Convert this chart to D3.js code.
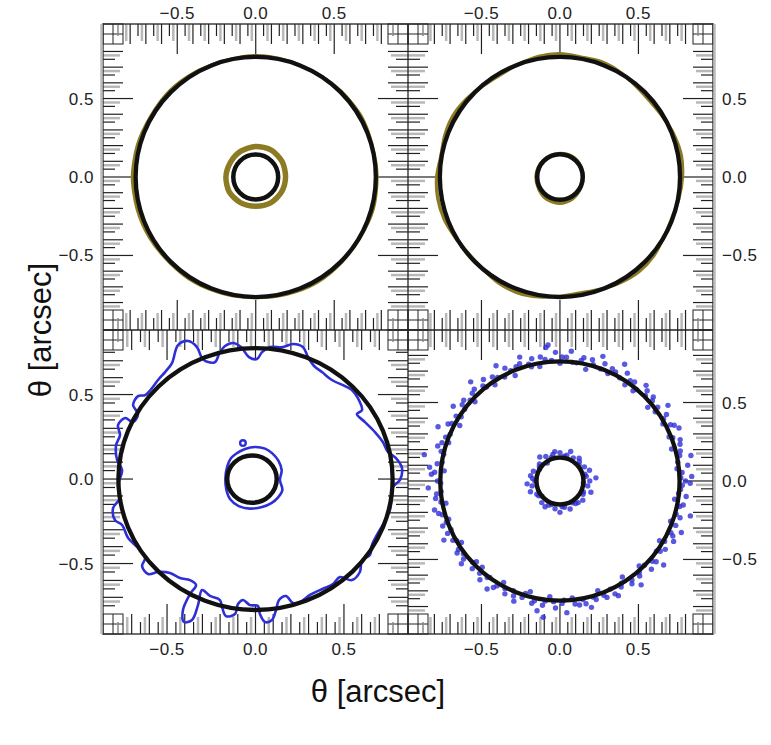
<!DOCTYPE html>
<html><head><meta charset="utf-8">
<script src="https://cdn.jsdelivr.net/npm/d3@7"></script>
<style>body{margin:0;background:#fff}</style>
</head><body><svg id="c" width="771" height="745"></svg>
<script>
// ---------------- DATA ----------------
const tickValues = [-0.5, 0.0, 0.5];
const tickLabels = ["\u22120.5", "0.0", "0.5"];
const axisTitle = "\u03B8 [arcsec]";

// Einstein ring radii (arcsec) per panel: outer and inner critical circle
const outerRadius = {tl: 0.765, tr: 0.765, bl: 0.775, br: 0.762};
const innerRadius = {tl: 0.143, tr: 0.145, bl: 0.14, br: 0.15};
const innerCenterX = {tl: 0.0, tr: 0.0, bl: -0.02, br: 0.0};

// Olive contours (polar: radius at evenly spaced angles)
const tlOuterOlive = [0.772,0.768,0.775,0.770,0.765,0.768,0.772,0.766,0.770,0.775,0.772,0.780,0.785,0.782,0.778,0.772,0.775,0.770,0.768,0.772,0.776,0.770,0.768,0.775];
const tlInnerOlive = [0.19,0.195,0.198,0.195,0.19,0.186,0.19,0.194,0.19,0.186,0.19,0.19];
const trOuterOlive = [0.78,0.785,0.775,0.76,0.75,0.755,0.77,0.78,0.775,0.785,0.78,0.765,0.755,0.76,0.775,0.785,0.78,0.77,0.785,0.79,0.785,0.77,0.76,0.765,0.78,0.785,0.775,0.76,0.75,0.76,0.775,0.785,0.78,0.765,0.76,0.77];
const trInnerOlive = [0.148,0.15,0.152,0.15,0.148,0.15,0.152,0.155,0.165,0.168,0.16,0.15];

// Blue contour, bottom-left panel [x, y] arcsec
const blOuterBlue = [
[-0.511,0.633],[-0.472,0.686],[-0.438,0.793],[-0.381,0.817],[-0.331,0.781],[-0.302,0.716],[-0.268,0.692],[-0.229,0.692],[-0.201,0.751],[-0.172,0.787],
[-0.127,0.805],[-0.082,0.781],[-0.037,0.722],[0.008,0.710],[0.037,0.751],[0.082,0.781],[0.155,0.781],[0.212,0.799],[0.268,0.781],[0.297,0.722],
[0.331,0.669],[0.376,0.633],[0.432,0.586],[0.506,0.550],[0.545,0.527],[0.579,0.479],[0.602,0.408],[0.573,0.385],[0.619,0.337],[0.675,0.278],
[0.720,0.219],[0.749,0.160],[0.794,0.124],[0.828,0.065],[0.816,-0.006],[0.777,-0.047],[0.771,-0.107],[0.760,-0.183],[0.726,-0.260],[0.692,-0.320],
[0.658,-0.391],[0.647,-0.450],[0.602,-0.479],[0.590,-0.550],[0.545,-0.598],[0.477,-0.580],[0.438,-0.621],[0.364,-0.657],[0.308,-0.686],[0.251,-0.728],
[0.212,-0.734],[0.172,-0.692],[0.133,-0.716],[0.116,-0.775],[0.093,-0.834],[0.054,-0.846],[0.025,-0.799],[0.014,-0.751],[-0.031,-0.746],[-0.071,-0.716],
[-0.099,-0.740],[-0.116,-0.799],[-0.167,-0.811],[-0.189,-0.757],[-0.201,-0.716],[-0.257,-0.692],[-0.302,-0.657],[-0.325,-0.746],[-0.359,-0.834],[-0.404,-0.846],
[-0.410,-0.775],[-0.370,-0.680],[-0.336,-0.627],[-0.370,-0.598],[-0.427,-0.586],[-0.483,-0.556],[-0.551,-0.550],[-0.607,-0.562],[-0.641,-0.515],[-0.624,-0.467],
[-0.664,-0.408],[-0.720,-0.349],[-0.754,-0.272],[-0.794,-0.243],[-0.805,-0.172],[-0.766,-0.112],[-0.777,-0.036],[-0.754,0.053],[-0.782,0.112],[-0.788,0.201],
[-0.766,0.260],[-0.777,0.320],[-0.737,0.361],[-0.692,0.337],[-0.664,0.385],[-0.692,0.438],[-0.664,0.491],[-0.624,0.497],[-0.585,0.538],[-0.551,0.586]
];
const blInnerBlue = [
[-0.110,0.150],[-0.059,0.178],[-0.003,0.190],[0.054,0.180],[0.095,0.152],[0.130,0.108],[0.148,0.053],[0.138,-0.006],[0.152,-0.065],[0.128,-0.108],
[0.090,-0.142],[0.037,-0.165],[-0.031,-0.175],[-0.095,-0.160],[-0.143,-0.120],[-0.165,-0.062],[-0.170,0.006],[-0.160,0.074],[-0.138,0.124]
];
const blBlob = [[-0.071,0.213]];

// Blue image-plane points, bottom-right panel [angle deg, radius arcsec]
const brOuterDots = [
[0,0.80],[2,0.84],[4,0.78],[7,0.82],[9,0.76],[11,0.85],[14,0.79],[16,0.74],[19,0.81],[21,0.77],[24,0.83],[27,0.79],[29,0.75],[32,0.80],[35,0.84],
[37,0.78],[40,0.73],[42,0.80],[45,0.77],[48,0.82],[50,0.76],[53,0.79],[56,0.74],[58,0.81],[61,0.85],[63,0.78],[66,0.75],[69,0.80],[71,0.84],[74,0.77],
[77,0.73],[79,0.80],[82,0.76],[85,0.83],[87,0.79],[90,0.75],[92,0.82],[95,0.87],[97,0.78],[100,0.74],[103,0.80],[105,0.77],[108,0.83],[111,0.78],[113,0.73],
[116,0.80],[119,0.84],[121,0.77],[124,0.74],[127,0.81],[129,0.78],[132,0.85],[135,0.79],[137,0.74],[140,0.80],[143,0.76],[145,0.83],[148,0.78],[151,0.73],
[153,0.80],[156,0.85],[159,0.78],[161,0.75],[164,0.81],[167,0.76],[169,0.88],[172,0.79],[175,0.74],[177,0.82],[180,0.78],[183,0.84],[185,0.76],[188,0.80],
[191,0.74],[193,0.82],[196,0.78],[199,0.75],[201,0.80],[204,0.76],[207,0.83],[209,0.78],[212,0.74],[215,0.80],[217,0.77],[220,0.82],[223,0.76],[225,0.79],
[228,0.74],[231,0.81],[233,0.77],[236,0.83],[239,0.78],[241,0.74],[244,0.80],[247,0.76],[249,0.82],[252,0.78],[255,0.73],[257,0.80],[260,0.84],[263,0.77],
[265,0.74],[268,0.81],[271,0.78],[273,0.84],[276,0.75],[279,0.80],[281,0.77],[284,0.83],[287,0.79],[289,0.74],[292,0.80],[295,0.76],[297,0.82],[300,0.78],
[303,0.73],[305,0.80],[308,0.84],[311,0.77],[313,0.74],[316,0.81],[319,0.78],[321,0.85],[324,0.76],[327,0.80],[329,0.74],[332,0.82],[335,0.78],[337,0.84],
[340,0.75],[343,0.80],[345,0.86],[348,0.78],[351,0.74],[353,0.81],[356,0.77],[359,0.83],
[96,0.855],[263,0.875],[174,0.835]
];
const brOuterDots2 = [
[1.5,0.77],[6,0.75],[12,0.78],[17,0.80],[22,0.75],[26,0.81],[31,0.77],[36,0.75],[41,0.78],[46,0.80],[51,0.74],[55,0.78],[60,0.76],[65,0.79],[70,0.76],
[75,0.80],[80,0.78],[84,0.76],[89,0.79],[94,0.77],[99,0.80],[104,0.75],[109,0.79],[114,0.77],[118,0.75],[123,0.79],[128,0.76],[133,0.80],[138,0.77],
[142,0.79],[147,0.75],[152,0.78],[157,0.76],[162,0.79],[166,0.78],[171,0.76],[176,0.80],[181,0.76],[186,0.79],[190,0.77],[195,0.80],[200,0.77],[205,0.79],
[210,0.76],[214,0.78],[219,0.79],[224,0.74],[229,0.78],[234,0.76],[238,0.80],[243,0.77],[248,0.79],[253,0.75],[258,0.78],[262,0.80],[267,0.77],[272,0.76],
[277,0.79],[282,0.80],[286,0.77],[291,0.78],[296,0.80],[301,0.76],[306,0.78],[310,0.79],[315,0.76],[320,0.80],[325,0.78],[330,0.77],[334,0.80],[339,0.79],
[344,0.77],[349,0.80],[354,0.76],[358,0.78]
];
const brInnerDots = [
[0,0.19],[10,0.17],[20,0.20],[30,0.18],[40,0.16],[50,0.19],[60,0.17],[70,0.20],[80,0.16],[90,0.18],[100,0.19],[110,0.16],[120,0.18],[130,0.20],
[140,0.17],[150,0.15],[160,0.18],[170,0.19],[180,0.16],[190,0.18],[200,0.20],[210,0.17],[220,0.15],[230,0.18],[240,0.19],[250,0.16],[260,0.18],
[270,0.20],[280,0.17],[290,0.19],[300,0.16],[310,0.18],[320,0.19],[330,0.17],[340,0.21],[350,0.18],[5,0.23],[185,0.21],[355,0.15],[125,0.14],
[15,0.165],[45,0.175],[75,0.17],[105,0.175],[145,0.16],[175,0.175],[215,0.165],[245,0.17],[275,0.165],[305,0.175],[335,0.165]
];

// ---------------- LAYOUT ----------------
const OLIVE = "#8c7b22", BLUE = "#2f2fd8", BLACK = "#111";
const panels = [
  {id:"tl", x0:103, x1:408, y0:24,  y1:330, xd:[-0.973,0.970], yd:[-0.975,0.975]},
  {id:"tr", x0:408, x1:713, y0:24,  y1:330, xd:[-0.968,0.975], yd:[-0.975,0.975]},
  {id:"bl", x0:103, x1:408, y0:330, y1:634, xd:[-0.862,0.862], yd:[-0.917,0.882]},
  {id:"br", x0:408, x1:713, y0:330, y1:634, xd:[-0.968,0.975], yd:[-0.975,0.962]}
];
const svg = d3.select("#c");
const font = "'Liberation Sans', Arial, Helvetica, sans-serif";

panels.forEach(p => {
  p.x = d3.scaleLinear().domain(p.xd).range([p.x0, p.x1]);
  p.y = d3.scaleLinear().domain(p.yd).range([p.y1, p.y0]);
});

// ticks
const gT = svg.append("g");
function tickLen(v){
  const a = Math.round(Math.abs(v)*100);
  if (a % 50 === 0) return 30;
  if (a % 10 === 0) return 20;
  return 12;
}
panels.forEach(p => {
  const blk = d3.range(-19, 20).map(k => +(k*0.05).toFixed(3));
  const gry = d3.range(-10, 10).map(k => +((k+0.5)*0.1 + 0.025).toFixed(3));
  const inX = v => p.x(v) > p.x0 + 22 && p.x(v) < p.x1 - 22;
  const inY = v => p.y(v) > p.y0 + 22 && p.y(v) < p.y1 - 22;
  gry.filter(inX).forEach(v => {
    const xx = p.x(v), L = 17;
    gT.append("line").attr("x1",xx).attr("x2",xx).attr("y1",p.y0).attr("y2",p.y0+L).attr("stroke","#b8b8b8").attr("stroke-width",2.5);
    gT.append("line").attr("x1",xx).attr("x2",xx).attr("y1",p.y1).attr("y2",p.y1-L).attr("stroke","#b8b8b8").attr("stroke-width",2.5);
  });
  gry.filter(inY).forEach(v => {
    const yy = p.y(v), L = 17;
    gT.append("line").attr("y1",yy).attr("y2",yy).attr("x1",p.x0).attr("x2",p.x0+L).attr("stroke","#b8b8b8").attr("stroke-width",2.5);
    gT.append("line").attr("y1",yy).attr("y2",yy).attr("x1",p.x1).attr("x2",p.x1-L).attr("stroke","#b8b8b8").attr("stroke-width",2.5);
  });
  blk.filter(inX).forEach(v => {
    const xx = p.x(v), L = tickLen(v);
    gT.append("line").attr("x1",xx).attr("x2",xx).attr("y1",p.y0).attr("y2",p.y0+L).attr("stroke","#222").attr("stroke-width",1.2);
    gT.append("line").attr("x1",xx).attr("x2",xx).attr("y1",p.y1).attr("y2",p.y1-L).attr("stroke","#222").attr("stroke-width",1.2);
  });
  blk.filter(inY).forEach(v => {
    const yy = p.y(v), L = tickLen(v);
    gT.append("line").attr("y1",yy).attr("y2",yy).attr("x1",p.x0).attr("x2",p.x0+L).attr("stroke","#222").attr("stroke-width",1.2);
    gT.append("line").attr("y1",yy).attr("y2",yy).attr("x1",p.x1).attr("x2",p.x1-L).attr("stroke","#222").attr("stroke-width",1.2);
  });
  [[p.x0,p.y0,1,1],[p.x1,p.y0,-1,1],[p.x0,p.y1,1,-1],[p.x1,p.y1,-1,-1]].forEach(([cx,cy,sx,sy]) => {
    const s = 20;
    gT.append("rect").attr("x", Math.min(cx, cx+sx*s)).attr("y", Math.min(cy, cy+sy*s)).attr("width", s).attr("height", s)
      .attr("fill","none").attr("stroke","#222").attr("stroke-width",1);
    gT.append("line").attr("x1",cx+sx*10).attr("x2",cx+sx*10).attr("y1",cy).attr("y2",cy+sy*s).attr("stroke","#222").attr("stroke-width",1);
    gT.append("line").attr("x1",cx).attr("x2",cx+sx*s).attr("y1",cy+sy*10).attr("y2",cy+sy*10).attr("stroke","#222").attr("stroke-width",1);
    gT.append("line").attr("x1",cx+sx*15).attr("x2",cx+sx*15).attr("y1",cy).attr("y2",cy+sy*s*0.6).attr("stroke","#888").attr("stroke-width",1.5);
  });
});

// frames
svg.append("rect").attr("x",103).attr("y",24).attr("width",610).attr("height",610).attr("fill","none").attr("stroke","#222").attr("stroke-width",1.3);
svg.append("line").attr("x1",101.5).attr("x2",101.5).attr("y1",24).attr("y2",634).attr("stroke","#bbb").attr("stroke-width",2.5);
svg.append("line").attr("x1",714.5).attr("x2",714.5).attr("y1",24).attr("y2",634).attr("stroke","#bbb").attr("stroke-width",2.5);
svg.append("line").attr("x1",408).attr("x2",408).attr("y1",24).attr("y2",634).attr("stroke","#222").attr("stroke-width",1.3);
svg.append("line").attr("x1",103).attr("x2",713).attr("y1",330).attr("y2",330).attr("stroke","#222").attr("stroke-width",1.3);

// contours
const P = Object.fromEntries(panels.map(p => [p.id, p]));
function polarPath(p, radii) {
  const n = radii.length;
  const pts = radii.map((r, i) => { const a = i / n * 2 * Math.PI; return [p.x(r*Math.cos(a)), p.y(r*Math.sin(a))]; });
  return d3.line().curve(d3.curveCardinalClosed.tension(0.2))(pts);
}
const gC = svg.append("g");
gC.append("path").attr("d", polarPath(P.tl, tlOuterOlive)).attr("fill","none").attr("stroke",OLIVE).attr("stroke-width",3.5);
gC.append("path").attr("d", polarPath(P.tl, tlInnerOlive)).attr("fill","none").attr("stroke",OLIVE).attr("stroke-width",5.5);
gC.append("path").attr("d", polarPath(P.tr, trOuterOlive)).attr("fill","none").attr("stroke",OLIVE).attr("stroke-width",3.5);
gC.append("path").attr("d", polarPath(P.tr, trInnerOlive)).attr("fill","none").attr("stroke",OLIVE).attr("stroke-width",3.5);

const bl = P.bl;
const xyLine = d3.line().x(d => bl.x(d[0])).y(d => bl.y(d[1])).curve(d3.curveCatmullRomClosed);
gC.append("path").attr("d", xyLine(blOuterBlue)).attr("fill","none").attr("stroke",BLUE).attr("stroke-width",2.6);
gC.append("path").attr("d", xyLine(blInnerBlue)).attr("fill","none").attr("stroke",BLUE).attr("stroke-width",2.6);
blBlob.forEach(d => gC.append("circle").attr("cx", bl.x(d[0])).attr("cy", bl.y(d[1])).attr("r", 2.8)
  .attr("fill","none").attr("stroke",BLUE).attr("stroke-width",2.4));

const br = P.br;
[...brOuterDots, ...brOuterDots2, ...brInnerDots].forEach(([a, r]) => {
  const t = a * Math.PI / 180;
  gC.append("circle").attr("cx", br.x(r*Math.cos(t))).attr("cy", br.y(r*Math.sin(t))).attr("r", 2.7)
    .attr("fill", BLUE).attr("fill-opacity", 0.8);
});

// black critical circles
panels.forEach(p => {
  [[outerRadius[p.id], 0, 4.3], [innerRadius[p.id], innerCenterX[p.id], 4.5]].forEach(([r, cx, w]) => {
    gC.append("ellipse").attr("cx", p.x(cx)).attr("cy", p.y(0))
      .attr("rx", p.x(cx + r) - p.x(cx)).attr("ry", p.y(0) - p.y(r))
      .attr("fill","none").attr("stroke",BLACK).attr("stroke-width",w);
  });
});

// tick labels
const gL = svg.append("g").attr("font-family", font).attr("font-size", 17).attr("fill", "#222").attr("letter-spacing", 0.5);
panels.forEach(p => {
  tickValues.forEach((v, i) => {
    if (p.id === "tl" || p.id === "tr")
      gL.append("text").attr("x", p.x(v)).attr("y", 19).attr("text-anchor","middle").text(tickLabels[i]);
    if (p.id === "bl" || p.id === "br")
      gL.append("text").attr("x", p.x(v)).attr("y", 655).attr("text-anchor","middle").text(tickLabels[i]);
    if (p.id === "tl" || p.id === "bl")
      gL.append("text").attr("x", 94).attr("y", p.y(v) + 6).attr("text-anchor","end").text(tickLabels[i]);
    if (p.id === "tr" || p.id === "br")
      gL.append("text").attr("x", 722).attr("y", p.y(v) + 6).attr("text-anchor","start").text(tickLabels[i]);
  });
});

// axis titles
svg.append("text").attr("x", 378).attr("y", 702).attr("text-anchor","middle")
  .attr("font-family", font).attr("font-size", 31).attr("fill","#111").text(axisTitle);
svg.append("text").attr("transform","translate(51,330) rotate(-90)").attr("text-anchor","middle")
  .attr("font-family", font).attr("font-size", 31).attr("fill","#111").text(axisTitle);
</script>
</body></html>
